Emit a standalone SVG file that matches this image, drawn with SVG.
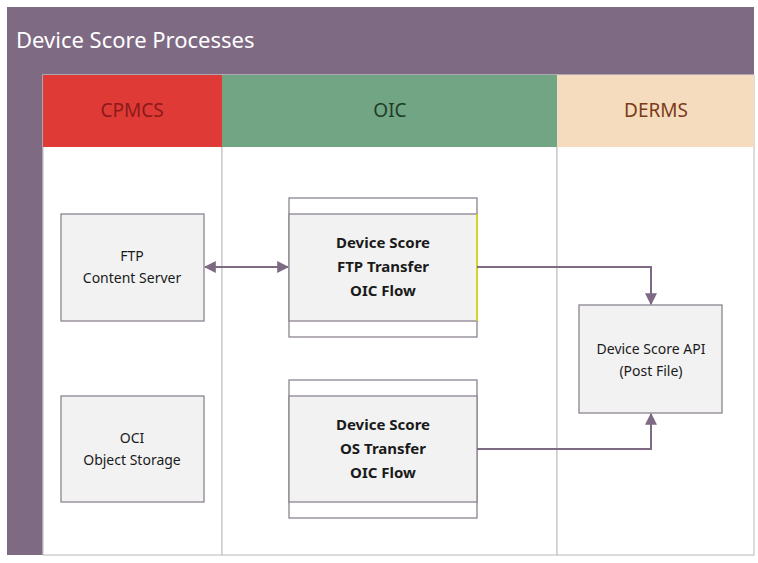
<svg xmlns="http://www.w3.org/2000/svg" width="758" height="563" viewBox="0 0 758 563">
<style>
text{font-family:"Noto Sans","Open Sans",sans-serif;fill:#1a1a1a}
.box{fill:#f2f2f2;stroke:#8c8591;stroke-width:1.3}
.out{fill:#fff;stroke:#8c8591;stroke-width:1.3}
.lane{fill:#fff;stroke:#c8c8c8;stroke-width:1.3}
.c{stroke:#7f6a84;stroke-width:2;fill:none}
.t{font-size:14px;text-anchor:middle}
.b{font-size:15px;font-weight:bold;text-anchor:middle}
.h{font-size:19px;text-anchor:middle}
</style>
<defs>
<marker id="a" viewBox="0 0 10 10" refX="9" refY="5" markerWidth="6" markerHeight="6" orient="auto-start-reverse" markerUnits="strokeWidth"><path d="M0,0L10,5L0,10z" fill="#7f6a84"/></marker>
</defs>
<rect width="758" height="563" fill="#fff"/>
<g id="pool">
<rect x="7" y="7" width="747" height="68" fill="#7f6a84"/>
<text x="16" y="48" style="font-size:22px;fill:#fff">Device Score Processes</text>
<rect x="7" y="75" width="36" height="480" fill="#7f6a84"/>
</g>
<g id="lanes">
<rect class="lane" x="43" y="75" width="179" height="480"/>
<rect class="lane" x="222" y="75" width="335" height="480"/>
<rect class="lane" x="557" y="75" width="197" height="480"/>
<rect x="43" y="75" width="179" height="72" fill="#e03a36"/>
<rect x="222" y="75" width="335" height="72" fill="#72a583"/>
<rect x="557" y="75" width="197" height="72" fill="#f5dcbe"/>
<text class="h" x="132" y="117" style="fill:#8b1a1a">CPMCS</text>
<text class="h" x="390" y="117" style="fill:#1f3d2a">OIC</text>
<text class="h" x="656" y="117" style="fill:#7a3b1a">DERMS</text>
</g>
<g id="ftp"><rect class="box" x="61" y="214" width="143" height="107"/>
<text class="t" x="132" y="261">FTP</text><text class="t" x="132" y="283">Content Server</text></g>
<g id="oci"><rect class="box" x="61" y="396" width="143" height="106"/>
<text class="t" x="132" y="443">OCI</text><text class="t" x="132" y="465">Object Storage</text></g>
<g id="flow1"><rect class="out" x="289" y="198" width="188" height="139"/>
<rect class="box" x="289" y="214" width="188" height="107"/>
<line x1="477" y1="214" x2="477" y2="321" stroke="#e8e000" stroke-width="1.5"/>
<text class="b" x="383" y="248">Device Score</text><text class="b" x="383" y="272">FTP Transfer</text><text class="b" x="383" y="296">OIC Flow</text></g>
<g id="flow2"><rect class="out" x="289" y="380" width="188" height="138"/>
<rect class="box" x="289" y="396" width="188" height="106"/>
<text class="b" x="383" y="430">Device Score</text><text class="b" x="383" y="454">OS Transfer</text><text class="b" x="383" y="478">OIC Flow</text></g>
<g id="api"><rect class="box" x="579" y="305" width="143" height="108"/>
<text class="t" x="651" y="354">Device Score API</text><text class="t" x="651" y="376">(Post File)</text></g>
<g id="connectors">
<path class="c" d="M205,267H288" marker-start="url(#a)" marker-end="url(#a)"/>
<path class="c" d="M477,267H651V304" marker-end="url(#a)"/>
<path class="c" d="M477,449H651V414" marker-end="url(#a)"/>
</g>
</svg>
